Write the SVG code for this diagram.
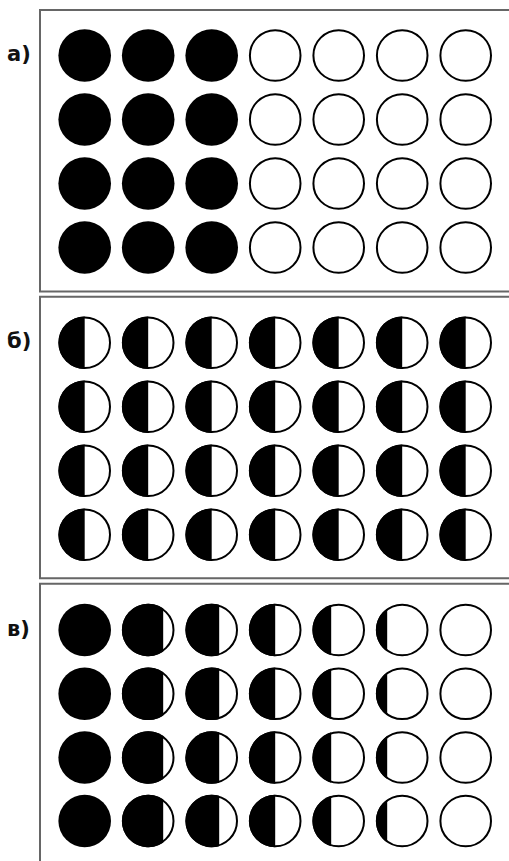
<svg xmlns="http://www.w3.org/2000/svg" xmlns:xlink="http://www.w3.org/1999/xlink" width="509" height="861" viewBox="0 0 509 861">
<style>
.frame{fill:none;stroke:#666;stroke-width:2}
.ring{fill:#fff;stroke:#000;stroke-width:2}
.ink{fill:#000}
.lbl{font-family:"DejaVu Sans","Liberation Sans",sans-serif;font-weight:bold;font-size:21px;fill:#111}
</style>
<defs>
<g id="full"><circle r="26.3" class="ink"/></g>
<g id="empty"><circle r="25.3" class="ring"/></g>
<g id="h0"><circle r="25.3" class="ring"/><path class="ink" d="M0,-26.3 A26.3,26.3 0 0 0 0,26.3 Z"/></g>
<g id="p15"><circle r="25.3" class="ring"/><path class="ink" d="M15,-21.6 A26.3,26.3 0 1 0 15,21.6 Z"/></g>
<g id="p7"><circle r="25.3" class="ring"/><path class="ink" d="M7.5,-25.2 A26.3,26.3 0 1 0 7.5,25.2 Z"/></g>
<g id="m7"><circle r="25.3" class="ring"/><path class="ink" d="M-7.5,-25.2 A26.3,26.3 0 0 0 -7.5,25.2 Z"/></g>
<g id="m15"><circle r="25.3" class="ring"/><path class="ink" d="M-15,-21.6 A26.3,26.3 0 0 0 -15,21.6 Z"/></g>
</defs>
<rect width="509" height="861" fill="#fff"/>

<g id="panel-a">
<path class="frame" d="M509,10 H40 V291.5 H509"/>
<text class="lbl" x="7" y="61">а)</text>
<g id="a-row1">
<use xlink:href="#full" x="84.7" y="55.5"/><use xlink:href="#full" x="148.2" y="55.5"/><use xlink:href="#full" x="211.7" y="55.5"/><use xlink:href="#empty" x="275.2" y="55.5"/><use xlink:href="#empty" x="338.7" y="55.5"/><use xlink:href="#empty" x="402.2" y="55.5"/><use xlink:href="#empty" x="465.7" y="55.5"/>
</g>
<g id="a-row2">
<use xlink:href="#full" x="84.7" y="119.5"/><use xlink:href="#full" x="148.2" y="119.5"/><use xlink:href="#full" x="211.7" y="119.5"/><use xlink:href="#empty" x="275.2" y="119.5"/><use xlink:href="#empty" x="338.7" y="119.5"/><use xlink:href="#empty" x="402.2" y="119.5"/><use xlink:href="#empty" x="465.7" y="119.5"/>
</g>
<g id="a-row3">
<use xlink:href="#full" x="84.7" y="183.5"/><use xlink:href="#full" x="148.2" y="183.5"/><use xlink:href="#full" x="211.7" y="183.5"/><use xlink:href="#empty" x="275.2" y="183.5"/><use xlink:href="#empty" x="338.7" y="183.5"/><use xlink:href="#empty" x="402.2" y="183.5"/><use xlink:href="#empty" x="465.7" y="183.5"/>
</g>
<g id="a-row4">
<use xlink:href="#full" x="84.7" y="247.5"/><use xlink:href="#full" x="148.2" y="247.5"/><use xlink:href="#full" x="211.7" y="247.5"/><use xlink:href="#empty" x="275.2" y="247.5"/><use xlink:href="#empty" x="338.7" y="247.5"/><use xlink:href="#empty" x="402.2" y="247.5"/><use xlink:href="#empty" x="465.7" y="247.5"/>
</g>
</g>

<g id="panel-b">
<path class="frame" d="M509,296.7 H40 V578.3 H509"/>
<text class="lbl" x="7" y="348">б)</text>
<g id="b-row1">
<use xlink:href="#h0" x="84.7" y="342.7"/><use xlink:href="#h0" x="148.2" y="342.7"/><use xlink:href="#h0" x="211.7" y="342.7"/><use xlink:href="#h0" x="275.2" y="342.7"/><use xlink:href="#h0" x="338.7" y="342.7"/><use xlink:href="#h0" x="402.2" y="342.7"/><use xlink:href="#h0" x="465.7" y="342.7"/>
</g>
<g id="b-row2">
<use xlink:href="#h0" x="84.7" y="406.7"/><use xlink:href="#h0" x="148.2" y="406.7"/><use xlink:href="#h0" x="211.7" y="406.7"/><use xlink:href="#h0" x="275.2" y="406.7"/><use xlink:href="#h0" x="338.7" y="406.7"/><use xlink:href="#h0" x="402.2" y="406.7"/><use xlink:href="#h0" x="465.7" y="406.7"/>
</g>
<g id="b-row3">
<use xlink:href="#h0" x="84.7" y="470.7"/><use xlink:href="#h0" x="148.2" y="470.7"/><use xlink:href="#h0" x="211.7" y="470.7"/><use xlink:href="#h0" x="275.2" y="470.7"/><use xlink:href="#h0" x="338.7" y="470.7"/><use xlink:href="#h0" x="402.2" y="470.7"/><use xlink:href="#h0" x="465.7" y="470.7"/>
</g>
<g id="b-row4">
<use xlink:href="#h0" x="84.7" y="534.7"/><use xlink:href="#h0" x="148.2" y="534.7"/><use xlink:href="#h0" x="211.7" y="534.7"/><use xlink:href="#h0" x="275.2" y="534.7"/><use xlink:href="#h0" x="338.7" y="534.7"/><use xlink:href="#h0" x="402.2" y="534.7"/><use xlink:href="#h0" x="465.7" y="534.7"/>
</g>
</g>

<g id="panel-c">
<path class="frame" d="M509,583.7 H40 V861"/>
<text class="lbl" x="7" y="636">в)</text>
<g id="c-row1">
<use xlink:href="#full" x="84.7" y="630"/><use xlink:href="#p15" x="148.2" y="630"/><use xlink:href="#p7" x="211.7" y="630"/><use xlink:href="#h0" x="275.2" y="630"/><use xlink:href="#m7" x="338.7" y="630"/><use xlink:href="#m15" x="402.2" y="630"/><use xlink:href="#empty" x="465.7" y="630"/>
</g>
<g id="c-row2">
<use xlink:href="#full" x="84.7" y="693.8"/><use xlink:href="#p15" x="148.2" y="693.8"/><use xlink:href="#p7" x="211.7" y="693.8"/><use xlink:href="#h0" x="275.2" y="693.8"/><use xlink:href="#m7" x="338.7" y="693.8"/><use xlink:href="#m15" x="402.2" y="693.8"/><use xlink:href="#empty" x="465.7" y="693.8"/>
</g>
<g id="c-row3">
<use xlink:href="#full" x="84.7" y="757.5"/><use xlink:href="#p15" x="148.2" y="757.5"/><use xlink:href="#p7" x="211.7" y="757.5"/><use xlink:href="#h0" x="275.2" y="757.5"/><use xlink:href="#m7" x="338.7" y="757.5"/><use xlink:href="#m15" x="402.2" y="757.5"/><use xlink:href="#empty" x="465.7" y="757.5"/>
</g>
<g id="c-row4">
<use xlink:href="#full" x="84.7" y="821"/><use xlink:href="#p15" x="148.2" y="821"/><use xlink:href="#p7" x="211.7" y="821"/><use xlink:href="#h0" x="275.2" y="821"/><use xlink:href="#m7" x="338.7" y="821"/><use xlink:href="#m15" x="402.2" y="821"/><use xlink:href="#empty" x="465.7" y="821"/>
</g>
</g>
</svg>
